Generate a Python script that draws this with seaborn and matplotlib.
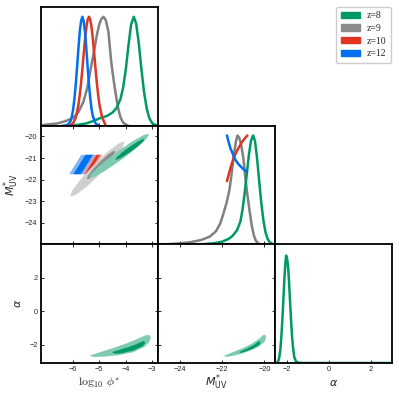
import numpy as np
import pandas as pd
import matplotlib
matplotlib.use('Agg')
import matplotlib.pyplot as plt
import seaborn as sns
from matplotlib.patches import Patch

# ---------------- data ----------------
labels = ['z=8', 'z=9', 'z=10', 'z=12']
dark = {'z=8': '#009966', 'z=9': '#8c8c8c', 'z=10': '#E03424', 'z=12': '#006FED'}
light = {'z=8': '#7fcbb1', 'z=9': '#cfcfcf', 'z=10': '#f09a92', 'z=12': '#7fb6f5'}
line = {'z=8': '#009966', 'z=9': 'gray', 'z=10': '#E03424', 'z=12': '#006FED'}

# 1D marginal of log10 phi*
phi_z12_x = [-6.3, -6.19, -6.09, -6.04, -5.99, -5.94, -5.89, -5.84, -5.79, -5.74, -5.69, -5.64,
             -5.59, -5.54, -5.49, -5.44, -5.39, -5.34, -5.29, -5.24, -5.14, -5.0]
phi_z12_y = [0.0, 0.01, 0.04, 0.085, 0.15, 0.25, 0.38, 0.54, 0.71, 0.86, 0.96, 1.0,
             0.96, 0.86, 0.71, 0.54, 0.38, 0.25, 0.15, 0.085, 0.02, 0.0]
phi_z10_x = [-6.2, -6.09, -5.99, -5.89, -5.79, -5.74, -5.69, -5.64, -5.59, -5.54, -5.49, -5.44, -5.39,
             -5.34, -5.29, -5.24, -5.19, -5.14, -5.09, -5.04, -4.99, -4.89, -4.75]
phi_z10_y = [0.0, 0.006, 0.024, 0.075, 0.19, 0.28, 0.39, 0.52, 0.66, 0.79, 0.90, 0.974, 1.0,
             0.974, 0.90, 0.79, 0.66, 0.52, 0.39, 0.28, 0.19, 0.075, 0.0]
phi_z9_x = [-7.21, -7.0, -6.6, -6.3, -6.0, -5.8, -5.6, -5.45, -5.34, -5.2, -5.1, -5.0, -4.92, -4.84,
            -4.75, -4.65, -4.55, -4.5, -4.4, -4.3, -4.2, -4.1, -4.0, -3.9]
phi_z9_y = [0.003, 0.01, 0.02, 0.04, 0.07, 0.12, 0.22, 0.35, 0.5, 0.68, 0.82, 0.93, 0.98, 1.0,
            0.97, 0.86, 0.6, 0.5, 0.33, 0.18, 0.08, 0.03, 0.01, 0.0]
phi_z8_x = [-6.4, -6.2, -5.8, -5.5, -5.2, -4.96, -4.7, -4.5, -4.35, -4.2, -4.1, -3.99, -3.89, -3.79,
            -3.69, -3.6, -3.5, -3.4, -3.3, -3.2, -3.1, -3.0, -2.9, -2.77]
phi_z8_y = [0.0, 0.002, 0.008, 0.02, 0.045, 0.07, 0.09, 0.12, 0.16, 0.24, 0.34, 0.52, 0.74, 0.93,
            1.0, 0.94, 0.76, 0.52, 0.31, 0.16, 0.07, 0.026, 0.01, 0.0]

# 1D marginal of M*_UV
muv_z8_x = [-23.0, -22.4, -22.0, -21.7, -21.5, -21.3, -21.14, -21.04, -20.94, -20.84, -20.74, -20.64,
            -20.54, -20.45, -20.35, -20.25, -20.15, -20.05, -19.95, -19.85, -19.75, -19.6]
muv_z8_y = [0.0, 0.01, 0.025, 0.05, 0.08, 0.13, 0.21, 0.32, 0.47, 0.64, 0.82, 0.95,
            1.0, 0.95, 0.79, 0.58, 0.38, 0.22, 0.11, 0.05, 0.02, 0.0]
muv_z9_x = [-25.05, -24.5, -24.0, -23.5, -23.0, -22.6, -22.3, -22.1, -21.95, -21.8, -21.66, -21.55,
            -21.45, -21.35, -21.28, -21.2, -21.1, -21.0, -20.9, -20.84, -20.7, -20.6, -20.5, -20.4,
            -20.3, -20.2]
muv_z9_y = [0.0, 0.002, 0.01, 0.02, 0.04, 0.07, 0.12, 0.19, 0.28, 0.38, 0.5, 0.66,
            0.82, 0.95, 1.0, 0.98, 0.91, 0.79, 0.6, 0.5, 0.3, 0.17, 0.08, 0.03, 0.01, 0.0]
muv_z10_x = [-21.78, -21.6, -21.45, -21.3, -21.1, -20.95, -20.81]
muv_z10_y = [0.58, 0.71, 0.80, 0.86, 0.93, 0.97, 1.0]
muv_z12_x = [-21.78, -21.7, -21.62, -21.5, -21.39, -21.25, -21.15, -21.0, -20.84]
muv_z12_y = [1.0, 0.94, 0.885, 0.83, 0.78, 0.74, 0.72, 0.69, 0.668]

# 1D marginal of alpha
alpha_z8_x = [-2.55, -2.45, -2.4, -2.35, -2.3, -2.25, -2.2, -2.15, -2.1, -2.05, -2.02, -1.98, -1.93,
              -1.88, -1.83, -1.78, -1.73, -1.68, -1.63, -1.55, -1.45, -1.2, 3.0]
alpha_z8_y = [0.0, 0.005, 0.015, 0.05, 0.12, 0.24, 0.41, 0.6, 0.8, 0.95, 1.0, 0.98, 0.9,
              0.74, 0.55, 0.37, 0.22, 0.12, 0.05, 0.015, 0.003, 0.0, 0.0]

# 2D contours (log10 phi*, M*_UV): outer (95%) and inner (68%) regions
pm_z9_out_x = [-4.04, -4.104, -4.426, -4.921, -5.456, -5.888, -6.10, -6.037, -5.714, -5.219, -4.684, -4.253]
pm_z9_out_y = [-20.23, -20.492, -21.025, -21.689, -22.305, -22.708, -22.79, -22.529, -21.995, -21.331, -20.715, -20.313]
pm_z9_in_x = [-4.39, -4.422, -4.59, -4.849, -5.13, -5.358, -5.47, -5.439, -5.27, -5.011, -4.73, -4.503]
pm_z9_in_y = [-20.66, -20.797, -21.076, -21.419, -21.736, -21.941, -21.98, -21.843, -21.564, -21.221, -20.904, -20.699]
pm_z8_out_x = [-3.09, -3.194, -3.579, -4.144, -4.735, -5.194, -5.40, -5.296, -4.911, -4.347, -3.755, -3.296]
pm_z8_out_y = [-19.87, -20.093, -20.532, -21.069, -21.562, -21.877, -21.93, -21.707, -21.268, -20.731, -20.238, -19.923]
pm_z8_in_x = [-3.28, -3.329, -3.513, -3.784, -4.069, -4.291, -4.39, -4.342, -4.157, -3.886, -3.601, -3.38]
pm_z8_in_y = [-20.12, -20.228, -20.435, -20.687, -20.915, -21.06, -21.08, -20.973, -20.765, -20.513, -20.285, -20.14]
pm_z12_out_x = [-6.14, -5.55, -5.10, -5.68]
pm_z12_out_y = [-21.75, -21.75, -20.85, -20.85]
pm_z12_in_x = [-5.98, -5.70, -5.24, -5.52]
pm_z12_in_y = [-21.75, -21.75, -20.85, -20.85]
pm_z10_out_x = [-5.62, -5.33, -4.88, -5.17]
pm_z10_out_y = [-21.75, -21.75, -20.85, -20.85]
pm_z10_in_x = [-5.55, -5.42, -4.97, -5.10]
pm_z10_in_y = [-21.75, -21.75, -20.85, -20.85]

# 2D contours (log10 phi*, alpha) for z=8
pa_out_x = [-5.37, -4.96, -4.5, -4.0, -3.6, -3.35, -3.2, -3.08, -3.04, -3.1, -3.3, -3.7, -4.2, -4.8, -5.2]
pa_out_y = [-2.66, -2.45, -2.22, -1.95, -1.70, -1.52, -1.43, -1.45, -1.6, -1.85, -2.15, -2.45, -2.62, -2.72, -2.74]
pa_in_x = [-4.51, -4.1, -3.7, -3.42, -3.3, -3.25, -3.35, -3.7, -4.1, -4.4]
pa_in_y = [-2.45, -2.25, -2.05, -1.85, -1.78, -1.9, -2.1, -2.35, -2.5, -2.55]

# 2D contours (M*_UV, alpha) for z=8
ma_out_x = [-21.97, -21.5, -21.0, -20.6, -20.25, -20.05, -19.95, -19.92, -20.0, -20.3, -20.8, -21.3, -21.75]
ma_out_y = [-2.70, -2.45, -2.2, -1.95, -1.65, -1.43, -1.42, -1.58, -1.85, -2.15, -2.42, -2.62, -2.73]
ma_in_x = [-21.2, -20.85, -20.5, -20.27, -20.18, -20.25, -20.55, -20.9, -21.1]
ma_in_y = [-2.45, -2.25, -2.02, -1.80, -1.85, -2.02, -2.25, -2.42, -2.5]

phi_ticks = [-6, -5, -4, -3]
muv_ticks = [-24, -22, -20]
muv_yticks = [-20, -21, -22, -23, -24]
alpha_ticks = [-2, 0, 2]

phi_lim = (-7.21, -2.77)
muv_lim = (-25.05, -19.5)
alpha_xlim = (-2.55, 3.0)
alpha_ylim = (-3.1, 3.98)

# ---------------- figure ----------------
sns.set_style('ticks')
plt.rcParams['font.family'] = ['DejaVu Sans']
plt.rcParams['axes.linewidth'] = 1.3

fig = plt.figure(figsize=(3.99, 3.99), dpi=100)
gs = fig.add_gridspec(3, 3, left=41 / 399, right=392 / 399, bottom=1 - 363 / 399,
                      top=1 - 7 / 399, wspace=0, hspace=0)
ax00 = fig.add_subplot(gs[0, 0])
ax10 = fig.add_subplot(gs[1, 0])
ax11 = fig.add_subplot(gs[1, 1])
ax20 = fig.add_subplot(gs[2, 0])
ax21 = fig.add_subplot(gs[2, 1])
ax22 = fig.add_subplot(gs[2, 2])

for ax in [ax00, ax10, ax11, ax20, ax21, ax22]:
    for s in ax.spines.values():
        s.set_visible(True)
        s.set_color('black')
        s.set_linewidth(1.3)

lw = 1.8


def curve(ax, xs, ys, key):
    df = pd.DataFrame({'x': xs, 'y': ys})
    sns.lineplot(data=df, x='x', y='y', ax=ax, color=line[key], lw=lw, sort=False,
                 estimator=None, legend=False)


# diagonal: log10 phi*
curve(ax00, phi_z9_x, phi_z9_y, 'z=9')
curve(ax00, phi_z8_x, phi_z8_y, 'z=8')
curve(ax00, phi_z10_x, phi_z10_y, 'z=10')
curve(ax00, phi_z12_x, phi_z12_y, 'z=12')
ax00.set_xlim(*phi_lim)
ax00.set_ylim(0, 1.09)

# diagonal: M_UV
curve(ax11, muv_z9_x, muv_z9_y, 'z=9')
curve(ax11, muv_z8_x, muv_z8_y, 'z=8')
curve(ax11, muv_z10_x, muv_z10_y, 'z=10')
curve(ax11, muv_z12_x, muv_z12_y, 'z=12')
ax11.set_xlim(*muv_lim)
ax11.set_ylim(0, 1.09)

# diagonal: alpha
curve(ax22, alpha_z8_x, alpha_z8_y, 'z=8')
ax22.set_xlim(*alpha_xlim)
ax22.set_ylim(0, 1.105)

# 2D phi - M
ax10.fill(pm_z12_out_x, pm_z12_out_y, color=light['z=12'], lw=0, zorder=1)
ax10.fill(pm_z12_in_x, pm_z12_in_y, color=dark['z=12'], lw=0, zorder=1.1)
ax10.fill(pm_z10_out_x, pm_z10_out_y, color=light['z=10'], lw=0, zorder=1.2)
ax10.fill(pm_z10_in_x, pm_z10_in_y, color=dark['z=10'], lw=0, zorder=1.3)
ax10.fill(pm_z9_out_x, pm_z9_out_y, color=light['z=9'], lw=0, zorder=1.4)
ax10.fill(pm_z9_in_x, pm_z9_in_y, color=dark['z=9'], lw=0, zorder=1.5)
ax10.fill(pm_z8_out_x, pm_z8_out_y, color=light['z=8'], lw=0, zorder=1.6)
ax10.fill(pm_z8_in_x, pm_z8_in_y, color=dark['z=8'], lw=0, zorder=1.7)
ax10.set_xlim(*phi_lim)
ax10.set_ylim(-25.0, -19.5)

# 2D phi - alpha
ax20.fill(pa_out_x, pa_out_y, color=light['z=8'], lw=0)
ax20.fill(pa_in_x, pa_in_y, color=dark['z=8'], lw=0)
ax20.set_xlim(*phi_lim)
ax20.set_ylim(*alpha_ylim)

# 2D M - alpha
ax21.fill(ma_out_x, ma_out_y, color=light['z=8'], lw=0)
ax21.fill(ma_in_x, ma_in_y, color=dark['z=8'], lw=0)
ax21.set_xlim(*muv_lim)
ax21.set_ylim(*alpha_ylim)

tick_kw = dict(direction='in', length=2.4, width=0.7, labelsize=5.3, pad=2.5)
for ax in [ax10, ax20, ax21]:
    ax.tick_params(which='both', top=True, right=True, **tick_kw)
for ax in [ax00, ax11, ax22]:
    ax.tick_params(which='both', top=False, right=False, left=False, **tick_kw)
    ax.set_yticks([])

ax00.set_xticks(phi_ticks); ax00.set_xticklabels([])
ax10.set_xticks(phi_ticks); ax10.set_xticklabels([])
ax20.set_xticks(phi_ticks)
ax11.set_xticks(muv_ticks); ax11.set_xticklabels([])
ax21.set_xticks(muv_ticks)
ax22.set_xticks(alpha_ticks)
ax10.set_yticks(muv_yticks)
ax20.set_yticks(alpha_ticks)
ax21.set_yticks(alpha_ticks); ax21.set_yticklabels([])

for ax in [ax10, ax20, ax21, ax22]:
    for t in ax.get_xticklabels() + ax.get_yticklabels():
        t.set_fontfamily('Liberation Sans')

for ax in [ax00, ax10, ax11, ax20, ax21, ax22]:
    ax.set_xlabel('')
    ax.set_ylabel('')

ax20.set_xlabel(r'$\log_{10}\,\phi^{*}$', fontsize=8.5, math_fontfamily='cm')
ax21.set_xlabel(r'$M^{*}_{\rm UV}$', fontsize=8)
ax22.set_xlabel(r'$\alpha$', fontsize=8)
for ax in [ax20, ax21, ax22]:
    ax.xaxis.label.set_va('baseline')
    ax.xaxis.set_label_coords(0.5, -0.19)
ax10.set_ylabel(r'$M^{*}_{\rm UV}$', fontsize=8, va='center')
ax10.yaxis.set_label_coords(-0.255, 0.5)
ax20.set_ylabel(r'$\alpha$', fontsize=8, va='center')
ax20.yaxis.set_label_coords(-0.2, 0.5)

handles = [Patch(facecolor=dark[k], edgecolor=dark[k]) for k in labels]
fig.legend(handles, labels, loc='upper right', bbox_to_anchor=(391 / 399, 1 - 7 / 399),
           prop={'family': 'Liberation Serif', 'size': 7}, frameon=True, fancybox=True,
           edgecolor='#cccccc', framealpha=1, handlelength=2.0, handleheight=0.65,
           labelspacing=0.37, handletextpad=0.7, borderpad=0.45, borderaxespad=0)

fig.savefig('out.png', dpi=100)
